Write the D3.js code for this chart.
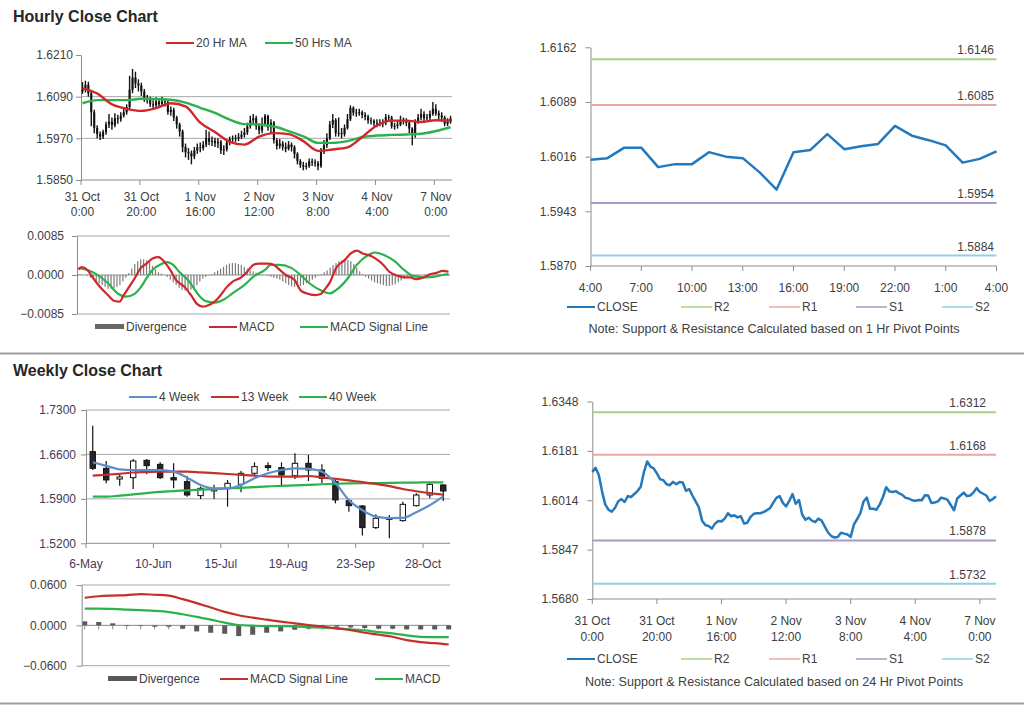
<!DOCTYPE html>
<html><head><meta charset="utf-8">
<script src="https://cdn.jsdelivr.net/npm/d3@7"></script>
<style>
body{margin:0;background:#fff;}
svg text{font-family:"Liberation Sans",Arial,sans-serif;}
</style></head><body>
<svg id="c" width="1024" height="706"></svg>
<script>
// ================= DATA =================
// Hourly candles (31 Oct 0:00 -> 7 Nov ~5:00), 126 bars
const hOpen = [1.6105,1.6110,1.6124,1.6100,1.6045,1.6000,1.5982,1.5975,1.5988,1.6010,
1.6018,1.6008,1.6028,1.6025,1.6035,1.6045,1.6060,1.6110,1.6145,1.6128,
1.6122,1.6105,1.6085,1.6082,1.6068,1.6065,1.6076,1.6068,1.6076,1.6074,
1.6046,1.6052,1.6030,1.6010,1.5990,1.5945,1.5930,1.5927,1.5918,1.5935,
1.5944,1.5942,1.5952,1.5970,1.5960,1.5963,1.5956,1.5960,1.5935,1.5938,
1.5958,1.5968,1.5970,1.5970,1.5974,1.5980,1.5987,1.6005,1.6022,1.6028,
1.6005,1.5993,1.6012,1.6035,1.6002,1.6015,1.5965,1.5948,1.5955,1.5945,
1.5940,1.5952,1.5945,1.5925,1.5905,1.5893,1.5888,1.5890,1.5904,1.5901,
1.5898,1.5890,1.5932,1.5950,1.5970,1.6010,1.6023,1.5985,1.5985,1.5982,
1.6000,1.6025,1.6058,1.6044,1.6042,1.6045,1.6037,1.6032,1.6022,1.6020,
1.6014,1.6012,1.6015,1.6014,1.6031,1.6030,1.6005,1.6006,1.6010,1.6023,
1.6020,1.6015,1.5998,1.5980,1.6020,1.6030,1.6040,1.6028,1.6030,1.6040,
1.6055,1.6042,1.6036,1.6030,1.6012,1.6018];
const hHigh = [1.6132,1.6136,1.6133,1.6105,1.6052,1.6008,1.5990,1.5995,1.6018,1.6040,
1.6030,1.6042,1.6038,1.6045,1.6058,1.6068,1.6150,1.6170,1.6162,1.6140,
1.6130,1.6112,1.6095,1.6090,1.6080,1.6088,1.6085,1.6090,1.6085,1.6078,
1.6062,1.6058,1.6035,1.6015,1.5995,1.5955,1.5942,1.5935,1.5945,1.5955,
1.5958,1.5962,1.5995,1.5990,1.5975,1.5972,1.5970,1.5965,1.5950,1.5965,
1.5975,1.5978,1.5980,1.5985,1.5992,1.6000,1.6015,1.6035,1.6040,1.6035,
1.6012,1.6030,1.6040,1.6038,1.6025,1.6020,1.5970,1.5968,1.5962,1.5958,
1.5962,1.5958,1.5950,1.5930,1.5910,1.5902,1.5900,1.5912,1.5912,1.5910,
1.5905,1.5942,1.5965,1.5985,1.6020,1.6040,1.6028,1.6030,1.6000,1.6010,
1.6040,1.6065,1.6062,1.6055,1.6055,1.6050,1.6045,1.6038,1.6030,1.6025,
1.6025,1.6025,1.6025,1.6040,1.6038,1.6035,1.6015,1.6020,1.6035,1.6030,
1.6028,1.6020,1.6002,1.6025,1.6040,1.6055,1.6048,1.6040,1.6050,1.6075,
1.6068,1.6050,1.6045,1.6035,1.6028,1.6035];
const hLow = [1.6098,1.6102,1.6090,1.6005,1.5985,1.5970,1.5965,1.5968,1.5980,1.6000,
1.5995,1.6002,1.6012,1.6018,1.6030,1.6038,1.6052,1.6100,1.6115,1.6105,
1.6092,1.6075,1.6070,1.6060,1.6055,1.6058,1.6060,1.6062,1.6062,1.6038,
1.6035,1.6020,1.5998,1.5975,1.5930,1.5915,1.5908,1.5895,1.5910,1.5925,
1.5930,1.5935,1.5945,1.5950,1.5948,1.5945,1.5942,1.5925,1.5922,1.5932,
1.5950,1.5958,1.5960,1.5962,1.5968,1.5972,1.5980,1.5998,1.6010,1.5995,
1.5982,1.5985,1.6005,1.5992,1.5985,1.5955,1.5938,1.5940,1.5935,1.5930,
1.5935,1.5932,1.5912,1.5895,1.5885,1.5878,1.5880,1.5885,1.5890,1.5888,
1.5878,1.5885,1.5925,1.5942,1.5965,1.6000,1.5975,1.5975,1.5970,1.5975,
1.5995,1.6020,1.6035,1.6032,1.6035,1.6028,1.6022,1.6012,1.6010,1.6005,
1.6002,1.6005,1.6002,1.6008,1.6018,1.5998,1.5995,1.5998,1.6005,1.6010,
1.6005,1.5985,1.5950,1.5972,1.6012,1.6022,1.6020,1.6020,1.6022,1.6035,
1.6035,1.6025,1.6018,1.6005,1.6005,1.6012];
const hClose = [1.6110,1.6124,1.6100,1.6045,1.6000,1.5982,1.5975,1.5988,1.6010,1.6018,
1.6008,1.6028,1.6025,1.6035,1.6045,1.6060,1.6110,1.6145,1.6128,1.6122,
1.6105,1.6085,1.6082,1.6068,1.6065,1.6076,1.6068,1.6076,1.6074,1.6046,
1.6052,1.6030,1.6010,1.5990,1.5945,1.5930,1.5927,1.5918,1.5935,1.5944,
1.5942,1.5952,1.5970,1.5960,1.5963,1.5956,1.5960,1.5935,1.5938,1.5958,
1.5968,1.5970,1.5970,1.5974,1.5980,1.5987,1.6005,1.6022,1.6028,1.6005,
1.5993,1.6012,1.6035,1.6002,1.6015,1.5965,1.5948,1.5955,1.5945,1.5940,
1.5952,1.5945,1.5925,1.5905,1.5893,1.5888,1.5890,1.5904,1.5901,1.5898,
1.5890,1.5932,1.5950,1.5970,1.6010,1.6023,1.5985,1.5985,1.5982,1.6000,
1.6025,1.6058,1.6044,1.6042,1.6045,1.6037,1.6032,1.6022,1.6020,1.6014,
1.6012,1.6015,1.6014,1.6031,1.6030,1.6005,1.6006,1.6010,1.6023,1.6020,
1.6015,1.5998,1.5980,1.6020,1.6030,1.6040,1.6028,1.6030,1.6040,1.6055,
1.6042,1.6036,1.6030,1.6012,1.6018,1.6027];
const hXTickIdx = [0,20,40,60,80,100,120];
const hXLabels = [["31 Oct","0:00"],["31 Oct","20:00"],["1 Nov","16:00"],["2 Nov","12:00"],["3 Nov","8:00"],["4 Nov","4:00"],["7 Nov","0:00"]];
const hYTicks = [1.5850,1.5970,1.6090,1.6210];
// moving averages sampled every 5 bars
const hMaIdx = [0,5,10,15,20,25,30,35,40,45,50,55,60,65,70,75,80,85,90,95,100,105,110,115,120,125];
const hMa20 = [1.6114,1.6099,1.6068,1.6055,1.6049,1.6057,1.6071,1.6062,1.6015,1.5988,1.5960,1.5952,1.5975,1.5985,1.5982,1.5962,1.5934,1.5938,1.5944,1.5974,1.6007,1.6021,1.6021,1.6017,1.6022,1.6021];
const hMa50 = [1.6071,1.6080,1.6080,1.6080,1.6084,1.6083,1.6081,1.6073,1.6058,1.6043,1.6024,1.6011,1.6010,1.6004,1.5991,1.5976,1.5957,1.5957,1.5962,1.5973,1.5978,1.5980,1.5981,1.5983,1.5991,1.6002];
// hourly MACD
const hMacdIdx = [0,1,3,5,7,10,12,14,15,17,19,21,23,25,27,29,31,33,36,38,40,42,43,46,48,50,52,55,57,59,61,64,66,68,70,73,75,77,80,82,83,85,87,90,92,94,96,99,101,103,105,108,110,112,114,117,119,121,123,125];
const hMacd = [0.0012,0.0017,0.0011,-0.0007,-0.0024,-0.0044,-0.0056,-0.0058,-0.0047,-0.0027,-0.0007,0.0015,0.0025,0.0036,0.0039,0.0029,0.0011,-0.0011,-0.0027,-0.0044,-0.0063,-0.0069,-0.0068,-0.0058,-0.0044,-0.0027,-0.0015,-0.0005,0.0007,0.0022,0.0025,0.0025,0.0022,0.0011,0.0000,-0.0011,-0.0033,-0.0040,-0.0044,-0.0041,-0.0033,-0.0015,0.0015,0.0033,0.0047,0.0053,0.0047,0.0041,0.0033,0.0022,0.0007,-0.0002,-0.0005,-0.0005,-0.0009,-0.0004,0.0002,0.0005,0.0009,0.0007];
const hSigIdx = [0,3,6,10,13,16,19,21,23,25,28,30,32,34,37,39,41,43,46,49,52,56,59,63,65,68,72,75,78,82,85,87,91,94,98,100,103,107,110,113,117,120,123,125];
const hSig = [0.0015,0.0011,0.0002,-0.0018,-0.0039,-0.0047,-0.0041,-0.0027,-0.0007,0.0011,0.0024,0.0028,0.0022,0.0007,-0.0011,-0.0029,-0.0047,-0.0057,-0.0060,-0.0054,-0.0040,-0.0022,-0.0004,0.0011,0.0022,0.0022,0.0015,0.0000,-0.0018,-0.0034,-0.0040,-0.0033,-0.0007,0.0022,0.0044,0.0049,0.0044,0.0029,0.0011,-0.0002,-0.0005,-0.0004,0.0000,0.0002];
const hDiv = [0.0002,0.0001,0.0000,-0.0002,-0.0006,-0.0010,-0.0014,-0.0018,-0.0022,-0.0026,
-0.0030,-0.0030,-0.0028,-0.0026,-0.0022,-0.0014,-0.0006,0.0004,0.0014,0.0024,
0.0030,0.0034,0.0034,0.0032,0.0028,0.0020,0.0012,0.0006,0.0003,0.0000,
-0.0004,-0.0010,-0.0016,-0.0022,-0.0028,-0.0032,-0.0034,-0.0034,-0.0032,-0.0028,
-0.0022,-0.0014,-0.0008,-0.0004,-0.0001,0.0002,0.0006,0.0010,0.0014,0.0018,
0.0022,0.0025,0.0026,0.0026,0.0024,0.0022,0.0018,0.0014,0.0010,0.0008,
0.0005,0.0003,0.0001,0.0000,-0.0002,-0.0004,-0.0006,-0.0008,-0.0010,-0.0014,
-0.0018,-0.0022,-0.0025,-0.0026,-0.0026,-0.0024,-0.0022,-0.0018,-0.0014,-0.0010,
-0.0006,-0.0002,0.0002,0.0006,0.0010,0.0016,0.0022,0.0026,0.0030,0.0032,
0.0033,0.0033,0.0030,0.0024,0.0016,0.0008,0.0002,-0.0004,-0.0008,-0.0012,
-0.0016,-0.0018,-0.0020,-0.0022,-0.0024,-0.0024,-0.0022,-0.0020,-0.0016,-0.0012,
-0.0008,-0.0005,-0.0003,-0.0002,-0.0001,-0.0001,0.0000,0.0001,0.0001,0.0002,
0.0002,0.0003,0.0002,0.0002,0.0001,0.0001];
const hMacdYTicks = [-0.0085,0.0000,0.0085];

// 1 Hr pivot chart (last 24 hours)
const tClose = [1.6012,1.6014,1.6028,1.6028,1.6002,1.6006,1.6006,1.6022,1.6016,1.6014,1.5995,1.5972,1.6022,1.6025,1.6046,1.6026,1.6030,1.6033,1.6057,1.6044,1.6038,1.6031,1.6008,1.6013,1.6023];
const tXLabels = ["4:00","7:00","10:00","13:00","16:00","19:00","22:00","1:00","4:00"];
const tYTicks = [1.5870,1.5943,1.6016,1.6089,1.6162];
const levelNames = ["R2","R1","S1","S2"];
const hrLevels = [1.6146,1.6085,1.5954,1.5884];
const dayLevels = [1.6312,1.6168,1.5878,1.5732];
const dYTicks = [1.5680,1.5847,1.6014,1.6181,1.6348];

// Weekly candles (6 May -> 4 Nov), 27 bars
const wOpen  = [1.6644,1.6381,1.6213,1.6234,1.6507,1.6444,1.6234,1.6171,1.5951,1.6045,1.6066,1.6129,1.6303,1.6423,1.6392,1.6266,1.6460,1.6355,1.6171,1.5872,1.5788,1.5447,1.5590,1.5557,1.5793,1.5961,1.6119];
const wHigh  = [1.7053,1.6497,1.6287,1.6528,1.6528,1.6476,1.6460,1.6266,1.6093,1.6124,1.6198,1.6339,1.6476,1.6476,1.6476,1.6618,1.6591,1.6444,1.6213,1.5898,1.5804,1.5657,1.5646,1.5856,1.5987,1.6145,1.6129];
const wLow   = [1.6355,1.6145,1.6108,1.6056,1.6287,1.6213,1.6066,1.5935,1.5898,1.5898,1.5778,1.6003,1.6276,1.6339,1.6108,1.6213,1.6182,1.6145,1.5830,1.5699,1.5321,1.5426,1.5279,1.5541,1.5778,1.5908,1.5867];
const wClose = [1.6381,1.6198,1.6245,1.6497,1.6423,1.6234,1.6198,1.5961,1.6066,1.6050,1.6145,1.6303,1.6408,1.6392,1.6276,1.6460,1.6355,1.6224,1.5883,1.5793,1.5447,1.5594,1.5600,1.5814,1.5961,1.6129,1.6024];
const wMa4  = [1.6476,1.6420,1.6365,1.6355,1.6355,1.6355,1.6329,1.6234,1.6119,1.6066,1.6066,1.6119,1.6224,1.6303,1.6355,1.6381,1.6371,1.6329,1.6150,1.5880,1.5720,1.5620,1.5598,1.5600,1.5690,1.5800,1.5940];
const wMa13 = [1.6266,1.6280,1.6295,1.6315,1.6322,1.6329,1.6329,1.6329,1.6318,1.6305,1.6292,1.6278,1.6265,1.6252,1.6250,1.6250,1.6260,1.6240,1.6215,1.6190,1.6165,1.6135,1.6100,1.6055,1.6020,1.5990,1.5965];
const wMa40 = [1.5935,1.5935,1.5950,1.5970,1.5990,1.6010,1.6022,1.6035,1.6045,1.6055,1.6064,1.6072,1.6085,1.6098,1.6105,1.6113,1.6120,1.6130,1.6138,1.6143,1.6146,1.6148,1.6152,1.6155,1.6157,1.6160,1.6160];
const wXTickIdx = [0,5,10,15,20,25];
const wXLabels = ["6-May","10-Jun","15-Jul","19-Aug","23-Sep","28-Oct"];
const wYTicks = [1.5200,1.5900,1.6600,1.7300];
// weekly MACD
const wSignal = [0.0410,0.0433,0.0443,0.0450,0.0465,0.0455,0.0443,0.0390,0.0330,0.0265,0.0200,0.0150,0.0115,0.0085,0.0055,0.0030,0.0005,-0.0020,-0.0045,-0.0070,-0.0110,-0.0140,-0.0170,-0.0220,-0.0250,-0.0265,-0.0285];
const wMacd   = [0.0250,0.0250,0.0245,0.0235,0.0225,0.0215,0.0198,0.0165,0.0125,0.0085,0.0040,0.0005,-0.0005,-0.0010,-0.0012,-0.0015,-0.0025,-0.0035,-0.0045,-0.0060,-0.0075,-0.0100,-0.0120,-0.0150,-0.0170,-0.0175,-0.0175];
const wDiv    = [0.006,0.005,0.003,-0.001,-0.001,-0.002,-0.002,-0.005,-0.009,-0.011,-0.0125,-0.016,-0.014,-0.011,-0.009,-0.0065,-0.005,-0.003,-0.002,-0.003,-0.004,-0.005,-0.005,-0.006,-0.006,-0.006,-0.006];
const wMacdYTicks = [-0.0600,0.0000,0.0600];

// ================= DRAWING =================
const svg = d3.select('#c');
const AX = '#8c8c8c', GRID = '#a6a6a6', TXT = '#404040';
const RED = '#d0272b', GREEN = '#2bb24c', BLUE = '#5b8fcb', CBLUE = '#2479bd';
const lvlColors = ['#a8cf86','#e8a7a6','#ab97c8','#8ed1e4'];
const f4 = d3.format('.4f');

function text(x, y, s, o = {}) {
  return svg.append('text').attr('x', x).attr('y', y).text(s)
    .attr('font-size', o.size || 12).attr('fill', o.fill || TXT)
    .attr('text-anchor', o.anchor || 'start').attr('font-weight', o.weight || 'normal');
}
function hline(x1, x2, y, color, w) {
  svg.append('line').attr('x1', x1).attr('x2', x2).attr('y1', y).attr('y2', y)
    .attr('stroke', color).attr('stroke-width', w || 1);
}
function yAxis(x, scale, ticks, pad, fill) {
  const g = svg.append('g').attr('transform', `translate(${x},0)`)
    .call(d3.axisLeft(scale).tickValues(ticks).tickFormat(f4).tickSize(5).tickSizeOuter(0).tickPadding(pad));
  g.select('.domain').attr('stroke', AX);
  g.selectAll('.tick line').attr('stroke', AX);
  g.selectAll('.tick text').attr('font-size', 12).attr('fill', fill || TXT)
    .attr('font-family', '"Liberation Sans",Arial,sans-serif');
  return g;
}
function legendLine(x, y, color, label, w) {
  hline(x, x + 28, y - 4, color, w || 2);
  text(x + 30, y, label);
}
function legendBar(x, y, color, label) {
  svg.append('rect').attr('x', x).attr('y', y - 7).attr('width', 29).attr('height', 5).attr('fill', color);
  text(x + 31, y, label);
}

// ---- separators & titles ----
hline(0, 1024, 353.5, '#a0a0a0', 2);
hline(0, 1024, 703.5, '#a0a0a0', 2);
text(13, 22, 'Hourly Close Chart', { size: 16, weight: 'bold', fill: '#262626' });
text(13, 376, 'Weekly Close Chart', { size: 16, weight: 'bold', fill: '#262626' });

// ---- Hourly candle chart ----
{
  const x = d3.scaleBand().domain(d3.range(hClose.length)).range([81, 452]);
  const y = d3.scaleLinear().domain([1.5850, 1.6210]).range([180, 55]);
  const bw = x.bandwidth();
  svg.append('g').selectAll('line').data(hYTicks.slice(1, 3)).join('line')
    .attr('x1', 81).attr('x2', 452).attr('y1', d => y(d)).attr('y2', d => y(d)).attr('stroke', GRID);
  hline(81, 452, 180, AX);
  svg.append('g').selectAll('line').data(hXTickIdx).join('line')
    .attr('x1', d => x(d)).attr('x2', d => x(d)).attr('y1', 180).attr('y2', 185).attr('stroke', AX);
  const lab = svg.append('g').selectAll('text').data(hXLabels).join('text')
    .attr('text-anchor', 'middle').attr('font-size', 12).attr('fill', TXT);
  lab.append('tspan').attr('x', (d, i) => x(hXTickIdx[i]) + bw / 2).attr('y', 201).text(d => d[0]);
  lab.append('tspan').attr('x', (d, i) => x(hXTickIdx[i]) + bw / 2).attr('y', 216).text(d => d[1]);
  yAxis(81, y, hYTicks, 3);
  const cd = hClose.map((c, i) => ({ i, o: hOpen[i], h: hHigh[i], l: hLow[i], c }));
  const g = svg.append('g');
  g.selectAll('line').data(cd).join('line')
    .attr('x1', d => x(d.i) + bw / 2).attr('x2', d => x(d.i) + bw / 2)
    .attr('y1', d => y(d.h)).attr('y2', d => y(d.l)).attr('stroke', '#111').attr('stroke-width', 1.4);
  g.selectAll('rect').data(cd).join('rect')
    .attr('x', d => x(d.i) + bw * 0.15).attr('width', bw * 0.7)
    .attr('y', d => y(Math.max(d.o, d.c))).attr('height', d => Math.max(0.8, Math.abs(y(d.o) - y(d.c))))
    .attr('fill', '#111');
  const ln = d3.line().x((d, j) => x(hMaIdx[j]) + bw / 2).y(d => y(d)).curve(d3.curveMonotoneX);
  svg.append('path').attr('d', ln(hMa50)).attr('fill', 'none').attr('stroke', GREEN).attr('stroke-width', 2.4);
  svg.append('path').attr('d', ln(hMa20)).attr('fill', 'none').attr('stroke', RED).attr('stroke-width', 2.4);
  legendLine(166, 47, RED, '20 Hr MA');
  legendLine(265, 47, GREEN, '50 Hrs MA');
}

// ---- Hourly MACD ----
{
  const x = d3.scaleBand().domain(d3.range(hDiv.length)).range([77, 450]);
  const y = d3.scaleLinear().domain([-0.0085, 0.0085]).range([314, 236]);
  const bw = x.bandwidth();
  hline(77, 450, y(0.0085), GRID);
  hline(77, 450, y(-0.0085), GRID);
  hline(77, 450, y(0), AX);
  svg.append('g').selectAll('rect').data(hDiv).join('rect')
    .attr('x', (d, i) => x(i) + bw * 0.3).attr('width', bw * 0.4)
    .attr('y', d => y(Math.max(0, d))).attr('height', d => Math.abs(y(d) - y(0)))
    .attr('fill', '#7a7a7a');
  yAxis(77, y, hMacdYTicks, 8);
  const ls = d3.line().x((d, j) => x(hSigIdx[j]) + bw / 2).y(d => y(d)).curve(d3.curveMonotoneX);
  const lm = d3.line().x((d, j) => x(hMacdIdx[j]) + bw / 2).y(d => y(d)).curve(d3.curveMonotoneX);
  svg.append('path').attr('d', ls(hSig)).attr('fill', 'none').attr('stroke', GREEN).attr('stroke-width', 2.2);
  svg.append('path').attr('d', lm(hMacd)).attr('fill', 'none').attr('stroke', RED).attr('stroke-width', 2.2);
  legendBar(95, 331, '#666', 'Divergence');
  legendLine(209, 331, RED, 'MACD');
  legendLine(300, 331, GREEN, 'MACD Signal Line');
}

// ---- Pivot line charts ----
function pivotChart(cfg) {
  const { data, x0, x1, y0, y1, dom, ticks, levels, labelRight, xLabels, xTickIdx, labY, legY, noteY, note, twoLine } = cfg;
  const x = d3.scalePoint().domain(d3.range(data.length)).range([x0, x1]);
  const y = d3.scaleLinear().domain(dom).range([y0, y1]);
  yAxis(x0, y, ticks, 9);
  hline(x0, x1, y0, AX);
  svg.append('g').selectAll('line').data(xTickIdx).join('line')
    .attr('x1', d => x(d)).attr('x2', d => x(d)).attr('y1', y0).attr('y2', y0 + 5).attr('stroke', AX);
  const lab = svg.append('g').selectAll('text').data(xLabels).join('text')
    .attr('text-anchor', 'middle').attr('font-size', 12).attr('fill', TXT);
  if (twoLine) {
    lab.append('tspan').attr('x', (d, i) => x(xTickIdx[i])).attr('y', labY).text(d => d[0]);
    lab.append('tspan').attr('x', (d, i) => x(xTickIdx[i])).attr('y', labY + 16).text(d => d[1]);
  } else {
    lab.attr('x', (d, i) => x(xTickIdx[i])).attr('y', labY).text(d => d);
  }
  levels.forEach((v, i) => {
    hline(x0, x1, y(v), lvlColors[i], 2);
    text(labelRight, y(v) - 5, f4(v), { anchor: 'end' });
  });
  svg.append('path').attr('d', d3.line().x((d, i) => x(i)).y(d => y(d))(data))
    .attr('fill', 'none').attr('stroke', CBLUE).attr('stroke-width', 2.5).attr('stroke-linejoin', 'round');
  legendLine(567, legY, CBLUE, 'CLOSE');
  levelNames.forEach((n, i) => {
    const lx = [681, 769, 856, 942][i];
    hline(lx, lx + 31, legY - 4, lvlColors[i], 1.5);
    text(lx + 33, legY, n);
  });
  text(774, noteY, note, { anchor: 'middle', size: 12.6 });
}
pivotChart({
  data: tClose, x0: 590.5, x1: 996.5, y0: 266, y1: 47.3, dom: [1.5870, 1.6162], ticks: tYTicks,
  levels: hrLevels, labelRight: 994, xLabels: tXLabels, xTickIdx: [0, 3, 6, 9, 12, 15, 18, 21, 24],
  labY: 292, legY: 311, noteY: 333, twoLine: false,
  note: 'Note: Support & Resistance Calculated based on 1 Hr Pivot Points'
});
pivotChart({
  data: hClose, x0: 592.3, x1: 996, y0: 599, y1: 401.5, dom: [1.5680, 1.6348], ticks: dYTicks,
  levels: dayLevels, labelRight: 986, xLabels: hXLabels, xTickIdx: hXTickIdx,
  labY: 625, legY: 663, noteY: 686, twoLine: true,
  note: 'Note: Support & Resistance Calculated based on 24 Hr Pivot Points'
});

// ---- Weekly candle chart ----
{
  const x = d3.scaleBand().domain(d3.range(wClose.length)).range([86, 450]);
  const y = d3.scaleLinear().domain([1.52, 1.73]).range([543.3, 410]);
  const bw = x.bandwidth();
  const WTXT = '#433a58';
  svg.append('g').selectAll('line').data(wYTicks.slice(1)).join('line')
    .attr('x1', 86).attr('x2', 450).attr('y1', d => y(d)).attr('y2', d => y(d)).attr('stroke', GRID);
  hline(86, 450, 543.3, AX);
  svg.append('g').selectAll('line').data(wXTickIdx).join('line')
    .attr('x1', d => x(d)).attr('x2', d => x(d)).attr('y1', 543.3).attr('y2', 548).attr('stroke', AX);
  svg.append('g').selectAll('text').data(wXLabels).join('text')
    .attr('x', (d, i) => x(wXTickIdx[i])).attr('y', 568).attr('text-anchor', 'middle')
    .attr('font-size', 12).attr('fill', WTXT).text(d => d);
  yAxis(86, y, wYTicks, 5, WTXT);
  const cd = wClose.map((c, i) => ({ i, o: wOpen[i], h: wHigh[i], l: wLow[i], c }));
  const g = svg.append('g');
  g.selectAll('line').data(cd).join('line')
    .attr('x1', d => x(d.i) + bw / 2).attr('x2', d => x(d.i) + bw / 2)
    .attr('y1', d => y(d.h)).attr('y2', d => y(d.l)).attr('stroke', '#111').attr('stroke-width', 1.2);
  g.selectAll('rect').data(cd).join('rect')
    .attr('x', d => x(d.i) + bw * 0.3).attr('width', bw * 0.4)
    .attr('y', d => y(Math.max(d.o, d.c))).attr('height', d => Math.max(1.5, Math.abs(y(d.o) - y(d.c))))
    .attr('fill', d => d.c > d.o ? '#fff' : '#262626').attr('stroke', '#111').attr('stroke-width', 1);
  const ln = d3.line().x((d, i) => x(i) + bw / 2).y(d => y(d)).curve(d3.curveMonotoneX);
  svg.append('path').attr('d', ln(wMa40)).attr('fill', 'none').attr('stroke', GREEN).attr('stroke-width', 2.2);
  svg.append('path').attr('d', ln(wMa13)).attr('fill', 'none').attr('stroke', '#c4302b').attr('stroke-width', 2.2);
  svg.append('path').attr('d', ln(wMa4)).attr('fill', 'none').attr('stroke', BLUE).attr('stroke-width', 2.2);
  legendLine(129, 401, BLUE, '4 Week');
  legendLine(211, 401, '#c4302b', '13 Week');
  legendLine(299, 401, GREEN, '40 Week');
}

// ---- Weekly MACD ----
{
  const x = d3.scalePoint().domain(d3.range(wMacd.length)).range([84.7, 448.7]);
  const y = d3.scaleLinear().domain([-0.06, 0.06]).range([665.7, 585]);
  hline(81.7, 450, y(0.06), GRID);
  hline(81.7, 450, y(-0.06), GRID);
  hline(81.7, 450, y(0), AX);
  svg.append('g').selectAll('line').data(wMacd).join('line')
    .attr('x1', (d, i) => x(i)).attr('x2', (d, i) => x(i)).attr('y1', y(0)).attr('y2', y(0) + 4).attr('stroke', AX);
  svg.append('g').selectAll('rect').data(wDiv).join('rect')
    .attr('x', (d, i) => x(i) - 2.5).attr('width', 5)
    .attr('y', d => y(Math.max(0, d))).attr('height', d => Math.abs(y(d) - y(0)))
    .attr('fill', '#595959');
  yAxis(81.7, y, wMacdYTicks, 10);
  const ln = d3.line().x((d, i) => x(i)).y(d => y(d)).curve(d3.curveMonotoneX);
  svg.append('path').attr('d', ln(wMacd)).attr('fill', 'none').attr('stroke', GREEN).attr('stroke-width', 2.2);
  svg.append('path').attr('d', ln(wSignal)).attr('fill', 'none').attr('stroke', '#c4302b').attr('stroke-width', 2.2);
  legendBar(108, 683, '#595959', 'Divergence');
  legendLine(220, 683, '#c4302b', 'MACD Signal Line');
  legendLine(375, 683, GREEN, 'MACD');
}
</script>
</body></html>
